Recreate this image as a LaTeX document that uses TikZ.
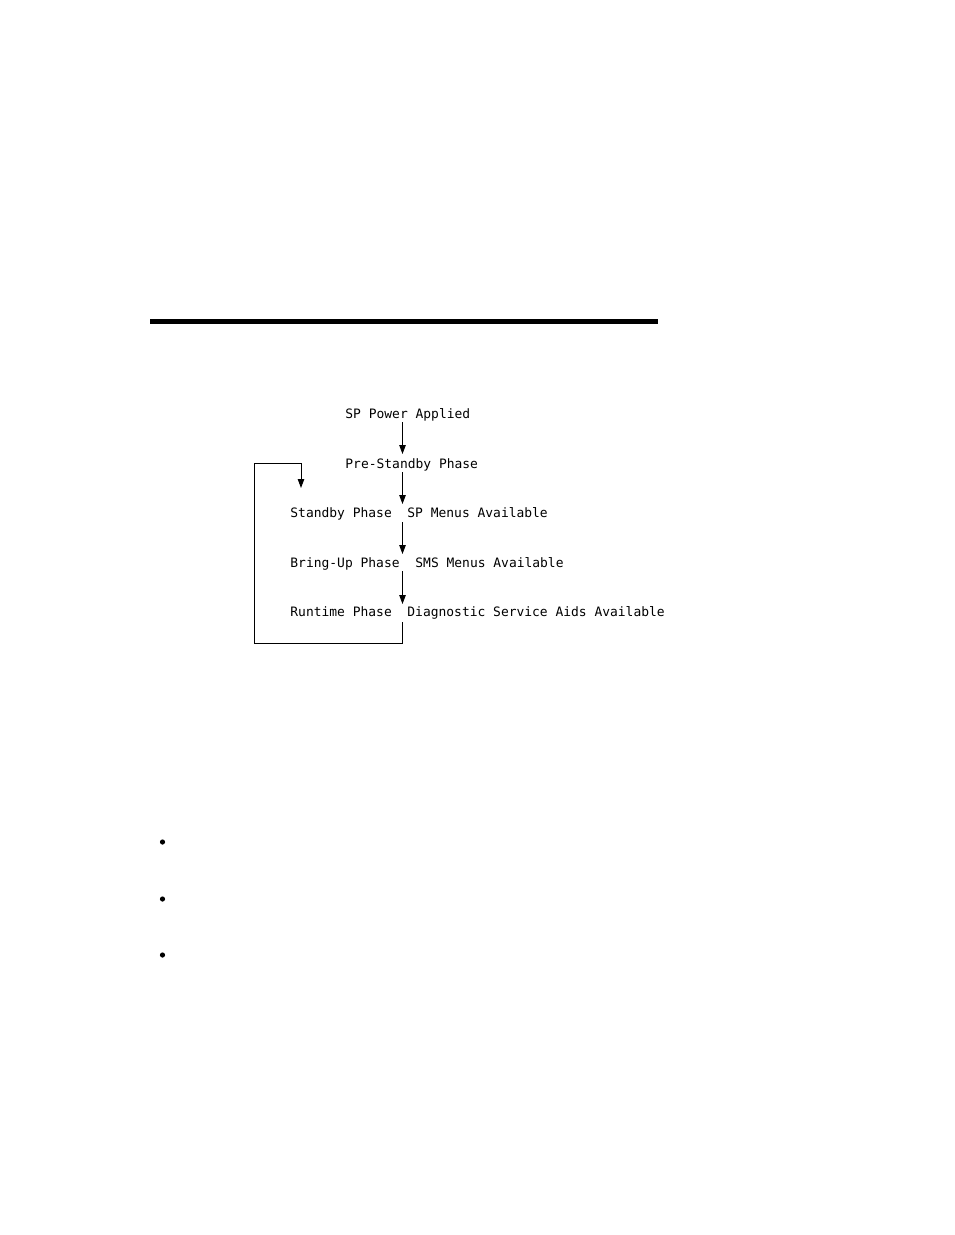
\documentclass[tikz,border=0pt]{standalone}
\usepackage{fontspec}
\setmonofont{DejaVu Sans Mono}
\usetikzlibrary{arrows.meta}
\begin{document}
\begin{tikzpicture}[x=1pt, y=-1pt, line width=0.9pt,
	label/.style = {anchor=base west, inner sep=0pt, font=\ttfamily\fontsize{12.95}{15}\selectfont},
	flow/.style = {-{Triangle[width=6.5pt,length=9pt]}}]
	\useasboundingbox (0,0) rectangle (954,1235);

		\fill (150,319) rectangle (658,324);

		\node[label] (power) at (345,418) {SP Power Applied};
		\node[label] (pre) at (345,468) {Pre-Standby Phase};
		\node[label] (standby) at (290,517) {Standby Phase};
		\node[label] (spmenu) at (407,517) {SP Menus Available};
		\node[label] (bringup) at (290,567) {Bring-Up Phase};
		\node[label] (smsmenu) at (415,567) {SMS Menus Available};
		\node[label] (runtime) at (290,616) {Runtime Phase};
		\node[label] (diag) at (407,616) {Diagnostic Service Aids Available};

		\coordinate (p0) at (402.5,422);
		\coordinate (p1) at (402.5,454);
		\coordinate (s0) at (402.5,472);
		\coordinate (s1) at (402.5,504);
		\coordinate (b0) at (402.5,522);
		\coordinate (b1) at (402.5,554);
		\coordinate (r0) at (402.5,571);
		\coordinate (r1) at (402.5,604);
		\coordinate (l0) at (402.5,622);
		\coordinate (l1) at (301,488);

		\draw[flow] (p0) to (p1);
		\draw[flow] (s0) to (s1);
		\draw[flow] (b0) to (b1);
		\draw[flow] (r0) to (r1);
		\draw[flow] (l0) |- (254.5,643.5) |- (301,463.5) -- (l1);

		\foreach \y in {842,899,955}
			\fill (162.5,\y) circle (2.6);
	\end{tikzpicture}
\end{document}
